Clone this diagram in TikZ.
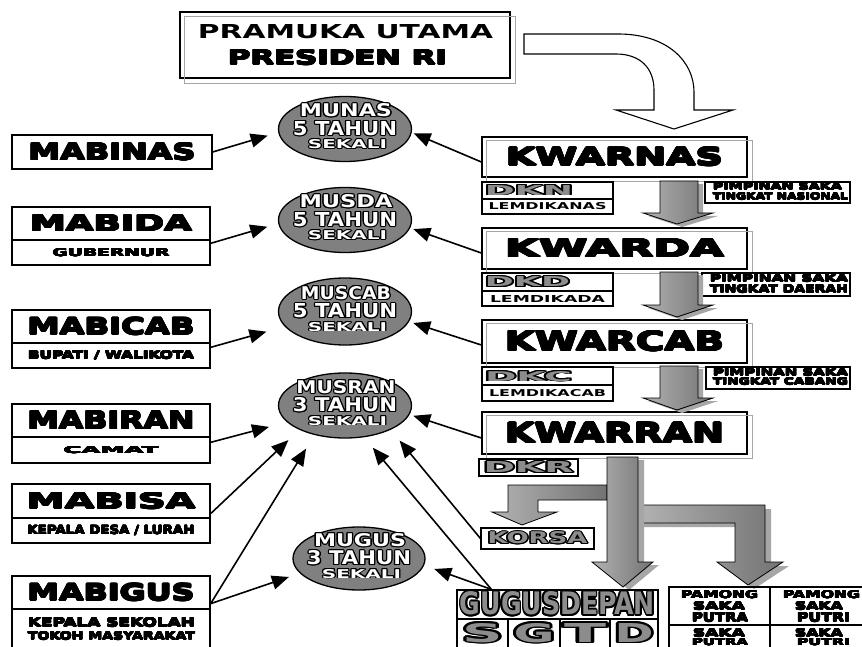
\documentclass[tikz,border=0pt]{standalone}
\usepackage{fontspec}
\usepackage{graphicx}
\usepackage[copies]{contour}
\usetikzlibrary{arrows.meta,calc,shapes.geometric}
\newfontfamily\blk{DejaVu Sans}
\newfontfamily\bld{DejaVu Sans}
\definecolor{ellg}{RGB}{128,128,128}
\definecolor{midg}{RGB}{140,140,140}
\contournumber{12}
\newcommand\hv[3]{\resizebox{#1pt}{#2pt}{\contourlength{0.25pt}\contour{black}{\blk\bfseries #3}}}
\newcommand\bd[3]{\resizebox{#1pt}{#2pt}{\bld\bfseries #3}}
\newcommand\ow[3]{\resizebox{#1pt}{#2pt}{\contourlength{0.6pt}\color{white}\contour{black}{\bld\bfseries #3}}}
\newcommand\og[3]{\resizebox{#1pt}{#2pt}{\contourlength{0.6pt}\color{midg}\contour{black}{\bld\bfseries #3}}}
\begin{document}
\begin{tikzpicture}[x=1pt,y=-1pt,line join=miter,
  box/.style={draw,line width=1.3pt,inner sep=0pt},
  sbox/.style={draw,line width=1.1pt,inner sep=0pt},
  shbox/.style={draw=gray!70,line width=1pt},
  ell/.style={ellipse,draw,line width=1.3pt,fill=ellg,inner sep=0pt,minimum width=133pt,minimum height=65pt},
  txt/.style={inner sep=0pt},
  con/.style={line width=1.6pt,-{Triangle[length=17pt,width=14pt]}},
  garr/.style={draw=black,line width=0.8pt,shading=axis,left color=black!30,middle color=white,right color=black!55},
  gsh/.style={fill=black!35,draw=none}]
\clip (0,0) rectangle (862,647);
\fill[white] (0,0) rectangle (862,647);

% ---------- top box ----------
\node[box,minimum width=330pt,minimum height=66pt] (pramuka) at (345,45) {};
\draw[shbox] ([shift={(5pt,-5pt)}]pramuka.north west) rectangle ([shift={(5pt,-5pt)}]pramuka.south east);
\node[txt] (pr1) at (345.5,31.5) {\bd{295}{14}{PRAMUKA UTAMA}};
\node[txt] (pr2) at (337.5,57.5) {\hv{219}{15}{PRESIDEN RI}};

% curved arrow
\draw[line width=1.1pt,fill=white] (524,34) -- (618,34) .. controls (668,34) and (694,62) .. (694,92) -- (694,110) -- (733,110) -- (674,129) -- (616,110) -- (654,110) -- (654,90) .. controls (654,68) and (640,54) .. (616,54) -- (524,54) -- cycle;

% ---------- KWAR boxes ----------
\node[box,minimum width=265pt,minimum height=40pt] (kwarnas) at (614.5,157) {\hv{217}{18}{KWARNAS}};
\node[box,minimum width=265pt,minimum height=41pt] (kwarda) at (614.5,248.5) {\hv{219}{18}{KWARDA}};
\node[box,minimum width=265pt,minimum height=43pt] (kwarcab) at (614.5,341.5) {\hv{219}{20}{KWARCAB}};
\node[box,minimum width=265pt,minimum height=42pt] (kwarran) at (614.5,433) {\hv{219}{20}{KWARRAN}};
\foreach \n in {kwarnas,kwarda,kwarcab,kwarran}
  \draw[shbox] ([shift={(5pt,-4pt)}]\n.north west) rectangle ([shift={(5pt,-4pt)}]\n.south east);

% ---------- DK boxes ----------
\node[sbox,minimum width=131pt,minimum height=17pt] (dkn) at (547.5,190.5) {};
\node[sbox,minimum width=131pt,minimum height=15pt] (lemdikanas) at (547.5,206.5) {\bd{118}{7}{LEMDIKANAS}};
\node[txt] (dkntxt) at (529,190.5) {\og{88}{10}{DKN}};
\node[sbox,minimum width=131pt,minimum height=18pt] (dkd) at (547.5,282) {};
\node[sbox,minimum width=131pt,minimum height=15pt] (lemdikada) at (547.5,298.5) {\bd{115}{7}{LEMDIKADA}};
\node[txt] (dkdtxt) at (527.5,282) {\og{85}{10}{DKD}};
\node[sbox,minimum width=131pt,minimum height=18pt] (dkc) at (547.5,376) {};
\node[sbox,minimum width=131pt,minimum height=16pt] (lemdikacab) at (547.5,393) {\bd{117}{7}{LEMDIKACAB}};
\node[txt] (dkctxt) at (528.5,376.5) {\og{87}{10}{DKC}};

% ---------- PIMPINAN SAKA boxes ----------
\node[sbox,minimum width=145pt,minimum height=21pt] (pimnas) at (777.5,192.5) {};
\node[txt] (pimnas1) at (777.5,186.5) {\hv{129}{7}{PIMPINAN SAKA}};
\node[txt] (pimnas2) at (780.5,196.5) {\hv{135}{7}{TINGKAT NASIONAL}};
\node[sbox,minimum width=148pt,minimum height=23pt] (pimdae) at (776,284.5) {};
\node[txt] (pimdae1) at (779,278.5) {\hv{138}{7}{PIMPINAN SAKA}};
\node[txt] (pimdae2) at (779,289) {\hv{138}{8}{TINGKAT DAERAH}};
\node[sbox,minimum width=144pt,minimum height=22pt] (pimcab) at (778,378) {};
\node[txt] (pimcab1) at (780.5,372.5) {\hv{135}{7}{PIMPINAN SAKA}};
\node[txt] (pimcab2) at (780.5,381.5) {\hv{135}{7}{TINGKAT CABANG}};

% ---------- gray down arrows ----------
\foreach \t/\b/\p in {181/213/224, 272/305/317, 366/398/410}{
  \fill[gsh,shift={(5pt,-3pt)}] (660,\t) -- (698,\t) -- (698,\b) -- (713,\b) -- (677,\p) -- (643,\b) -- (660,\b) -- cycle;
  \path[garr] (660,\t) -- (698,\t) -- (698,\b) -- (713,\b) -- (677,\p) -- (643,\b) -- (660,\b) -- cycle;
}

% ---------- KWARRAN split arrows ----------
\path[garr] (607,485) -- (508,485) -- (508,512) -- (492,512) -- (522,525) -- (557,512) -- (538,512) -- (538,500) -- (607,500) -- cycle;
\fill[gsh,shift={(6pt,-4pt)}] (638,505) -- (765,505) -- (765,562) -- (783,562) -- (748,585) -- (717,562) -- (735,562) -- (735,523) -- (638,523) -- cycle;
\path[garr] (638,505) -- (765,505) -- (765,562) -- (783,562) -- (748,585) -- (717,562) -- (735,562) -- (735,523) -- (638,523) -- cycle;
\fill[gsh,shift={(6pt,-3pt)}] (607,457) -- (638,457) -- (638,562) -- (653,562) -- (623,587) -- (592,562) -- (607,562) -- cycle;
\path[garr] (607,457) -- (638,457) -- (638,562) -- (653,562) -- (623,587) -- (592,562) -- (607,562) -- cycle;

\node[sbox,minimum width=99pt,minimum height=17pt] (dkr) at (528.5,467.5) {\og{90}{11}{DKR}};
\node[sbox,minimum width=113pt,minimum height=21pt] (korsa) at (537.5,538.5) {\og{100}{12}{KORSA}};

% ---------- GUGUSDEPAN ----------
\node[box,minimum width=201pt,minimum height=29pt] (gugusdepan) at (557.5,604.5) {\og{195}{23}{GUGUSDEPAN}};
\node[box,minimum width=51pt,minimum height=36pt] (cs) at (482.5,637) {};
\node[box,minimum width=52pt,minimum height=36pt] (cg) at (534,637) {};
\node[box,minimum width=50pt,minimum height=36pt] (ct) at (585,637) {};
\node[box,minimum width=48pt,minimum height=36pt] (cd) at (634,637) {};
\node[txt] (cstxt) at (482.5,633.5) {\og{40}{19}{S}};
\node[txt] (cgtxt) at (534,633.5) {\og{41}{19}{G}};
\node[txt] (cttxt) at (585,633.5) {\og{42}{19}{T}};
\node[txt] (cdtxt) at (634,633.5) {\og{39}{19}{D}};

% ---------- PAMONG table ----------
\node[box,minimum width=101pt,minimum height=38pt] (pput) at (719.5,606) {};
\node[box,minimum width=101pt,minimum height=38pt] (ppti) at (820.5,606) {};
\node[box,minimum width=101pt,minimum height=40pt] (sput) at (719.5,645) {};
\node[box,minimum width=101pt,minimum height=40pt] (spti) at (820.5,645) {};
\node[txt] (pput1) at (719.5,594.5) {\hv{77}{8}{PAMONG}};
\node[txt] (pput2) at (719,606) {\hv{52}{8}{SAKA}};
\node[txt] (pput3) at (720,617.5) {\hv{56}{9}{PUTRA}};
\node[txt] (ppti1) at (821.5,594.5) {\hv{77}{8}{PAMONG}};
\node[txt] (ppti2) at (819,606) {\hv{48}{8}{SAKA}};
\node[txt] (ppti3) at (823.5,617.5) {\hv{53}{9}{PUTRI}};
\node[txt] (sput1) at (719,633) {\hv{52}{8}{SAKA}};
\node[txt] (sput2) at (720,642) {\hv{56}{7}{PUTRA}};
\node[txt] (spti1) at (819,633) {\hv{48}{8}{SAKA}};
\node[txt] (spti2) at (823.5,642) {\hv{53}{7}{PUTRI}};

% ---------- ellipses ----------
\node[ell] (munas) at (345,129) {};
\node[ell] (musda) at (345,220) {};
\node[ell,minimum height=67pt] (muscab) at (345,311.5) {};
\node[ell] (musran) at (345,405.5) {};
\node[ell,minimum width=132pt,minimum height=63pt] (mugus) at (359,558.5) {};
\foreach \e/\a/\w/\n in {munas/MUNAS/92/5, musda/MUSDA/93/5, muscab/MUSCAB/90/5, musran/MUSRAN/99/3, mugus/MUGUS/92/3}{
  \node[txt] (\e-a) at ($(\e)+(1,-18)$) {\ow{\w}{13}{\a}};
  \node[txt] (\e-b) at ($(\e)+(0,0)$) {\ow{104}{14}{\n\ TAHUN}};
  \node[txt] (\e-c) at ($(\e)+(2.5,15.5)$) {\ow{79}{9}{SEKALI}};
}

% ---------- left boxes ----------
\node[box,minimum width=200pt,minimum height=34pt] (mabinas) at (112,152) {\hv{167}{17}{MABINAS}};
\node[box,minimum width=198pt,minimum height=33pt] (mabida) at (111,223.5) {\hv{162}{16}{MABIDA}};
\node[box,minimum width=198pt,minimum height=25pt] (gubernur) at (111,252.5) {\hv{117}{8}{GUBERNUR}};
\node[box,minimum width=198pt,minimum height=33pt] (mabicab) at (111,326.5) {\hv{167}{17}{MABICAB}};
\node[box,minimum width=198pt,minimum height=25pt] (bupati) at (111,355.5) {\hv{166}{8}{BUPATI / WALIKOTA}};
\node[box,minimum width=198pt,minimum height=33pt] (mabiran) at (111,420.5) {\hv{167}{18}{MABIRAN}};
\node[box,minimum width=198pt,minimum height=26pt] (camat) at (111,450) {\hv{95}{7}{CAMAT}};
\node[box,minimum width=198pt,minimum height=34pt] (mabisa) at (111,501) {\hv{169}{16}{MABISA}};
\node[box,minimum width=198pt,minimum height=25pt] (kepdesa) at (111,530.5) {\hv{167}{9}{KEPALA DESA / LURAH}};
\node[box,minimum width=198pt,minimum height=33pt] (mabigus) at (111,592.5) {\hv{167}{17}{MABIGUS}};
\node[box,minimum width=198pt,minimum height=51pt] (kepsek) at (111,634.5) {};
\node[txt] (kepsek1) at (111.5,622.5) {\hv{167}{9}{KEPALA SEKOLAH}};
\node[txt] (kepsek2) at (111.5,636) {\hv{167}{8}{TOKOH MASYARAKAT}};

% ---------- connectors ----------
\draw[con,shorten >=11pt] (mabinas.east) -- (munas.183.5);
\draw[con,shorten >=11.4pt] ([yshift=-4pt]gubernur.north east) -- (musda.183.3);
\draw[con,shorten >=19pt] ([yshift=-5pt]bupati.north east) -- (muscab.194.3);
\draw[con,shorten >=18.5pt] ([yshift=-6pt]camat.north east) -- (musran.196.3);
\draw[con,shorten >=15pt] ([yshift=5pt]mabisa.south east) -- (musran.208.1);
\draw[con,shorten >=16pt] ([yshift=6pt]mabigus.south east) -- (musran.224.3);
\draw[con,shorten >=11.5pt] ([yshift=6pt]mabigus.south east) -- (mugus.194.4);
\draw[con,shorten >=2pt] ([yshift=-5pt]kwarnas.west) -- (munas.357.2);
\draw[con,shorten >=3.3pt] ([yshift=-4.5pt]kwarda.west) -- (musda.353.9);
\draw[con,shorten >=4.3pt] ([yshift=-3.5pt]kwarcab.west) -- (muscab.351.9);
\draw[con,shorten >=3.9pt] ([yshift=-5pt]kwarran.west) -- (musran.352.7);
\draw[con,shorten >=14pt] (korsa.west) -- (musran.332.8);
\draw[con,shorten >=13.6pt] ([xshift=35pt]gugusdepan.north west) -- (musran.301.8);
\draw[con,shorten >=10.8pt] ([xshift=35pt]gugusdepan.north west) -- (mugus.354.9);
\end{tikzpicture}
\end{document}
